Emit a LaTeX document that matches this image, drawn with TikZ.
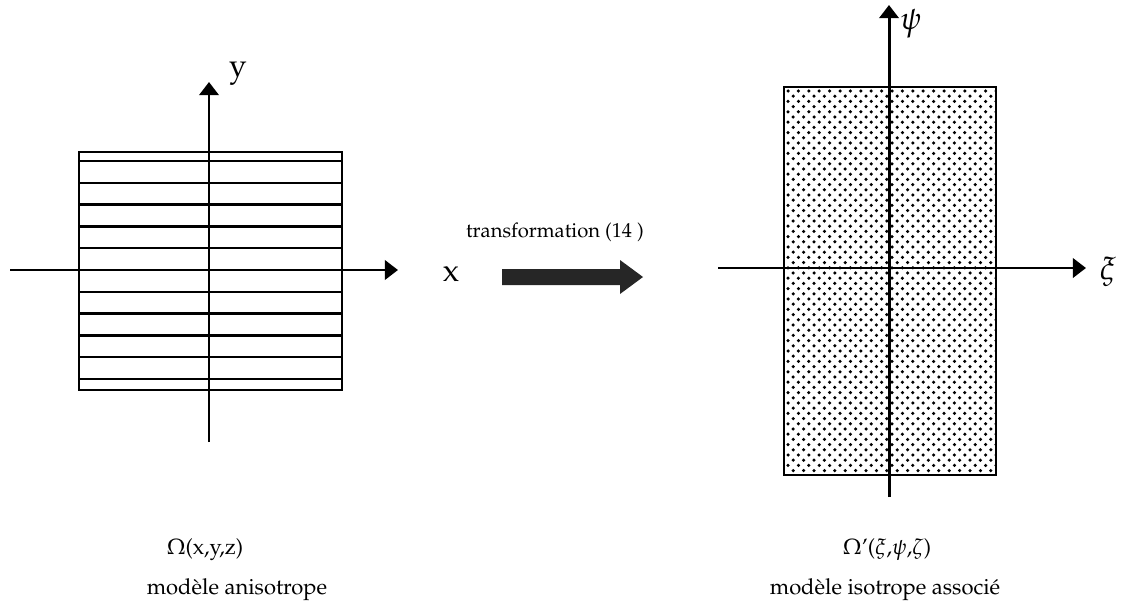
\documentclass[tikz,border=0pt]{standalone}
\usepackage[T1]{fontenc}
\usepackage{mathpazo}
\usetikzlibrary{arrows.meta}
\tikzset{
  axe/.style={line width=1.7pt, -{Triangle[length=7.5pt,width=11pt]}},
  bord/.style={line width=1.3pt},
  leg/.style={font=\fontsize{12.5}{15}\selectfont},
  axlbl/.style={font=\fontsize{18}{20}\selectfont},
}

\begin{document}
\begin{tikzpicture}[x=0.02cm,y=-0.02cm]
    \useasboundingbox (0,0) rectangle (1124,608);
    % modele anisotrope
    \draw [bord] (79,152) rectangle (342,390);
    \foreach \k in {0,...,10}
      \draw [bord] (79,161+21.8*\k) -- (342,161+21.8*\k);
    \coordinate (ox1) at (10,270);
    \coordinate (ex1) at (398,270);
    \coordinate (oy1) at (209,442);
    \coordinate (ey1) at (209,82);
    \draw [axe] (ox1) -- (ex1);
    \draw [axe] (oy1) -- (ey1);
    \node [axlbl] (lx) at (451,274) {x};
    \node [axlbl] (ly) at (238,74) {y};
    % fleche
    \fill [black!85] (502,269) -- (620,269) -- (620,260) -- (643,277)
      -- (620,294) -- (620,285) -- (502,285) -- cycle;
    \node [font=\fontsize{11.5}{14}\selectfont] (tr) at (555,232) {transformation (14 )};
    % modele isotrope
    \def\a{788};
    \def\b{91};
    \def\d{10.4};
    \begin{scope}
      \clip (785,88) rectangle (995,474);
      \foreach \i in {0,...,20}
      \foreach \j in {0,...,74}
        \fill ({\a+\d*\i+0.5*\d*mod(\j,2)},{\b+0.5*\d*\j}) circle (1pt);
    \end{scope}
    \draw [bord] (784,87) rectangle (996,475);
    \coordinate (ox2) at (718,268);
    \coordinate (ex2) at (1086,268);
    \coordinate (oy2) at (889,497);
    \coordinate (ey2) at (889,5);
    \draw [axe] (ox2) -- (ex2);
    \draw [axe] (oy2) -- (ey2);
    \node [axlbl] (lxi) at (1108,272) {$\xi$};
    \node [axlbl] (lpsi) at (911,24) {$\psi$};
    % legendes
    \node [leg] (om1) at (205,550) {$\Omega$(x,y,z)};
    \node [leg] (t1) at (237,590) {mod\`ele anisotrope};
    \node [leg] (om2) at (887,550) {$\Omega$'($\xi$,$\psi$,$\zeta$)};
    \node [leg] (t2) at (885,590) {mod\`ele isotrope associ\'e};
\end{tikzpicture}
\end{document}
